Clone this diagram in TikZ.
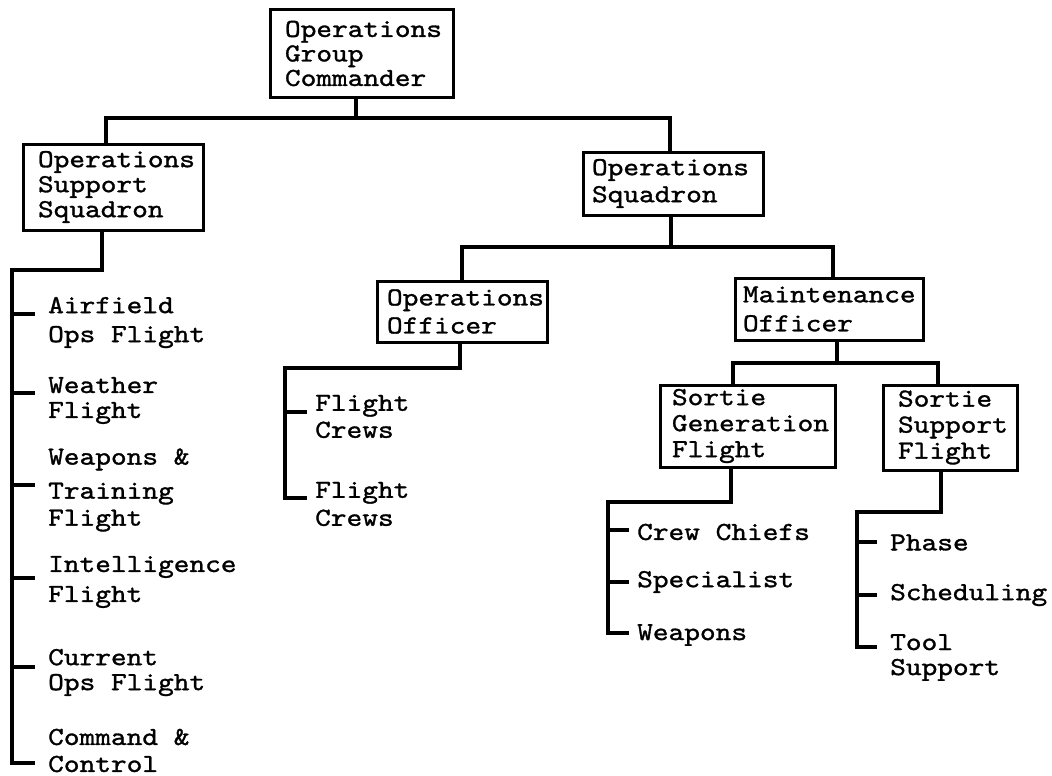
\documentclass[tikz,border=0pt]{standalone}
\usepackage{fontspec}
\setmonofont{lmmono10-regular}[Extension=.otf, FakeStretch=1.15, FakeBold=1.2]
\begin{document}
\begin{tikzpicture}[x=1pt,y=-1pt,
  txt/.style={font=\ttfamily\fontsize{26}{26}\selectfont, align=left},
  box/.style={txt, draw, line width=3pt, inner ysep=0pt},
  item/.style={txt, anchor=west, inner ysep=0pt},
  wire/.style={line width=3.5pt, line join=miter, line cap=rect}]
\useasboundingbox[fill=white] (0,0) rectangle (1052,776);

% ---- boxes ----
\node[box, minimum height=87pt, inner xsep=15pt, text width=153pt] (ogc) at (361.5,53.5)
  {Operations\\[-1.5pt]Group\\[-1.5pt]Commander};
\node[box, minimum height=86pt, inner xsep=15pt, text width=150pt] (oss) at (113,187)
  {Operations\\[-1pt]Support\\[-1pt]Squadron};
\node[box, minimum height=63pt, inner xsep=9pt, text width=162pt] (osq) at (673,183.5)
  {Operations\\[1pt]Squadron};
\node[box, minimum height=61pt, inner xsep=10pt, text width=150pt] (oof) at (462,311.5)
  {Operations\\[2pt]Officer};
\node[box, minimum height=62pt, inner xsep=8pt, text width=172pt] (mof) at (829,309)
  {Maintenance\\[3pt]Officer};
\node[box, minimum height=82pt, inner xsep=12pt, text width=151pt] (sgf) at (747.5,426)
  {Sortie\\Generation\\Flight};
\node[box, minimum height=85pt, inner xsep=15pt, text width=104pt] (ssf) at (950,427.5)
  {Sortie\\Support\\Flight};

% ---- list items ----
\node[item, inner xsep=15pt] (a1) at (33,322.5) {Airfield\\[3pt]Ops Flight};
\node[item, inner xsep=15pt] (a2) at (33,400.5) {Weather\\[-1pt]Flight};
\node[item, inner xsep=15pt] (a3) at (33,490) {Weapons \&\\[8pt]Training\\[1pt]Flight};
\node[item, inner xsep=15pt] (a4) at (33,582) {Intelligence\\[4pt]Flight};
\node[item, inner xsep=15pt] (a5) at (33,672.5) {Current\\[-1pt]Ops Flight};
\node[item, inner xsep=15pt] (a6) at (33,750.5) {Command \&\\[1pt]Control};

\node[item, inner xsep=10pt] (f1) at (305,416.5) {Flight\\[1pt]Crews};
\node[item, inner xsep=10pt] (f2) at (305,504) {Flight\\[2pt]Crews};

\node[item, inner xsep=10pt] (c1) at (627,532) {Crew Chiefs};
\node[item, inner xsep=10pt] (c2) at (627,582) {Specialist};
\node[item, inner xsep=10pt] (c3) at (627,635) {Weapons};

\node[item, inner xsep=15pt] (p1) at (875,542.5) {Phase};
\node[item, inner xsep=15pt] (p2) at (875,595) {Scheduling};
\node[item, inner xsep=15pt] (p3) at (875,657.5) {Tool\\[-1pt]Support};

% ---- junctions and bus lines ----
\coordinate (j1) at (356,118);
\coordinate (j2) at (671,247);
\coordinate (j3) at (837,363);
\coordinate (ossbus) at (12,270);
\coordinate (oofbus) at (285,368);
\coordinate (sgfbus) at (608,502);
\coordinate (ssfbus) at (857,512);

% ---- tree connectors ----
\draw[wire] ([xshift=-5.5pt]ogc.south) -- (j1);
\draw[wire] ([xshift=-7pt]oss.north) |- (j1) -| ([xshift=-3pt]osq.north);
\draw[wire] ([xshift=-2pt]osq.south) -- (j2);
\draw[wire] (oof.north) |- (j2) -| ([xshift=4pt]mof.north);
\draw[wire] ([xshift=8pt]mof.south) -- (j3);
\draw[wire] ([xshift=-14.5pt]sgf.north) |- (j3) -| ([xshift=-12pt]ssf.north);

% ---- branch buses with ticks ----
\foreach \n/\s in {a1/8.5, a2/7.5, a3/5, a4/4, a5/5.5, a6/-12.5}
  \coordinate (\n-t) at ([yshift=\s pt]\n.west);
\foreach \n/\s in {f1/4.5, f2/6}
  \coordinate (\n-t) at ([yshift=\s pt]\n.west);
\foreach \n/\s in {c1/2, c2/0, c3/2}
  \coordinate (\n-t) at ([yshift=\s pt]\n.west);
\foreach \n/\s in {p1/0.5, p2/0, p3/10.5}
  \coordinate (\n-t) at ([yshift=\s pt]\n.west);

\draw[wire] ([xshift=-11pt]oss.south) |- (ossbus) |- (a6-t);
\foreach \n in {a1,a2,a3,a4,a5} \draw[wire] (ossbus |- \n-t) -- (\n-t);

\draw[wire] ([xshift=-2pt]oof.south) |- (oofbus) |- (f2-t);
\draw[wire] (oofbus |- f1-t) -- (f1-t);

\draw[wire] ([xshift=-16.5pt]sgf.south) |- (sgfbus) |- (c3-t);
\foreach \n in {c1,c2} \draw[wire] (sgfbus |- \n-t) -- (\n-t);

\draw[wire] ([xshift=-9pt]ssf.south) |- (ssfbus) |- (p3-t);
\foreach \n in {p1,p2} \draw[wire] (ssfbus |- \n-t) -- (\n-t);
\end{tikzpicture}
\end{document}
